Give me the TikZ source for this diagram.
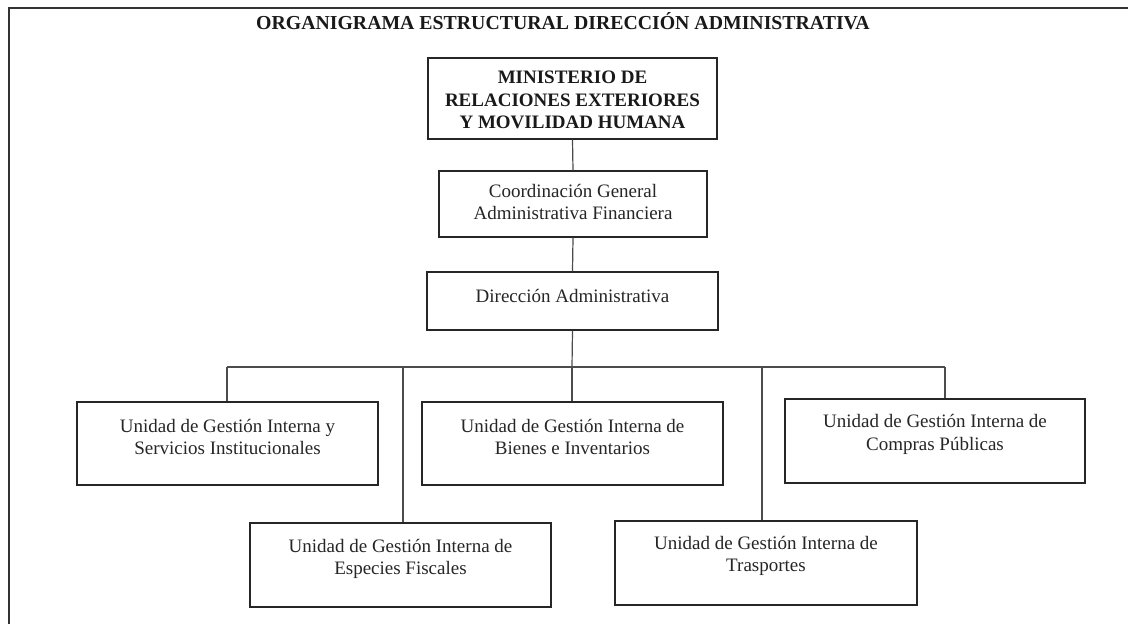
\documentclass[tikz,border=0pt]{standalone}
\usepackage{fontspec}
\setmainfont{Liberation Serif}
\begin{document}
\begin{tikzpicture}[x=1pt,y=-1pt,
  box/.style={draw=black!85,line width=1.3pt,inner sep=0pt},
  lbl/.style={align=center,font=\fontsize{19}{22.5}\selectfont,inner sep=0pt,text=black!85},
  blbl/.style={align=center,font=\fontsize{19}{22.5}\selectfont\bfseries,inner sep=0pt,text=black!90},
  conn/.style={draw=black!70,line width=1.2pt}]
\useasboundingbox (0,0) rectangle (1128,624);
\fill[white] (0,0) rectangle (1128,624);
% frame
\draw[black!80,line width=2pt] (9,624) -- (9,8) -- (1128,8);
% title
\node[blbl,font=\fontsize{19.8}{22.5}\selectfont\bfseries] (title) at (563,21) {ORGANIGRAMA ESTRUCTURAL DIRECCIÓN ADMINISTRATIVA};
% boxes
\node[box,minimum width=289pt,minimum height=81pt] (min) at (572.5,98.5) {};
\node[blbl] (minT) at (572.5,100) {MINISTERIO DE\\RELACIONES EXTERIORES\\Y MOVILIDAD HUMANA};
\node[box,minimum width=268pt,minimum height=66pt] (cgaf) at (573,204) {};
\node[lbl] (cgafT) at (573,202) {Coordinación General\\Administrativa Financiera};
\node[box,minimum width=291pt,minimum height=58pt] (da) at (572.5,301) {};
\node[lbl] (daT) at (572.5,296) {Dirección Administrativa};
\node[box,minimum width=301pt,minimum height=83pt] (u1) at (227.5,443.5) {};
\node[lbl] (u1T) at (227.5,437) {Unidad de Gestión Interna y\\Servicios Institucionales};
\node[box,minimum width=301pt,minimum height=83pt] (u2) at (572.5,443.5) {};
\node[lbl] (u2T) at (572.5,437) {Unidad de Gestión Interna de\\Bienes e Inventarios};
\node[box,minimum width=300pt,minimum height=84pt] (u3) at (935,441) {};
\node[lbl] (u3T) at (935,434.5) {Unidad de Gestión Interna de\\Compras Públicas};
\node[box,minimum width=301pt,minimum height=84pt] (u4) at (400.5,565) {};
\node[lbl] (u4T) at (400.5,559) {Unidad de Gestión Interna de\\Especies Fiscales};
\node[box,minimum width=302pt,minimum height=84pt] (u5) at (766,563) {};
\node[lbl] (u5T) at (766,556) {Unidad de Gestión Interna de\\Trasportes};
% bus coordinates
\coordinate (busL) at (227,367);
\coordinate (busR) at (945,367);
\coordinate (busC) at (572,367);
\coordinate (bus4) at (403,367);
\coordinate (bus5) at (762,367);
% connectors
\draw[conn] (min.south) -- (cgaf.north);
\draw[conn] (cgaf.south) -- (da.north);
\draw[conn] (da.south) -- (busC);
\draw[conn] (busL) -- (busR);
\draw[conn] (busL) -- (busL |- u1.north);
\draw[conn] (busC) -- (busC |- u2.north);
\draw[conn] (busR) -- (busR |- u3.north);
\draw[conn] (bus4) -- (bus4 |- u4.north);
\draw[conn] (bus5) -- (bus5 |- u5.north);
\end{tikzpicture}
\end{document}
